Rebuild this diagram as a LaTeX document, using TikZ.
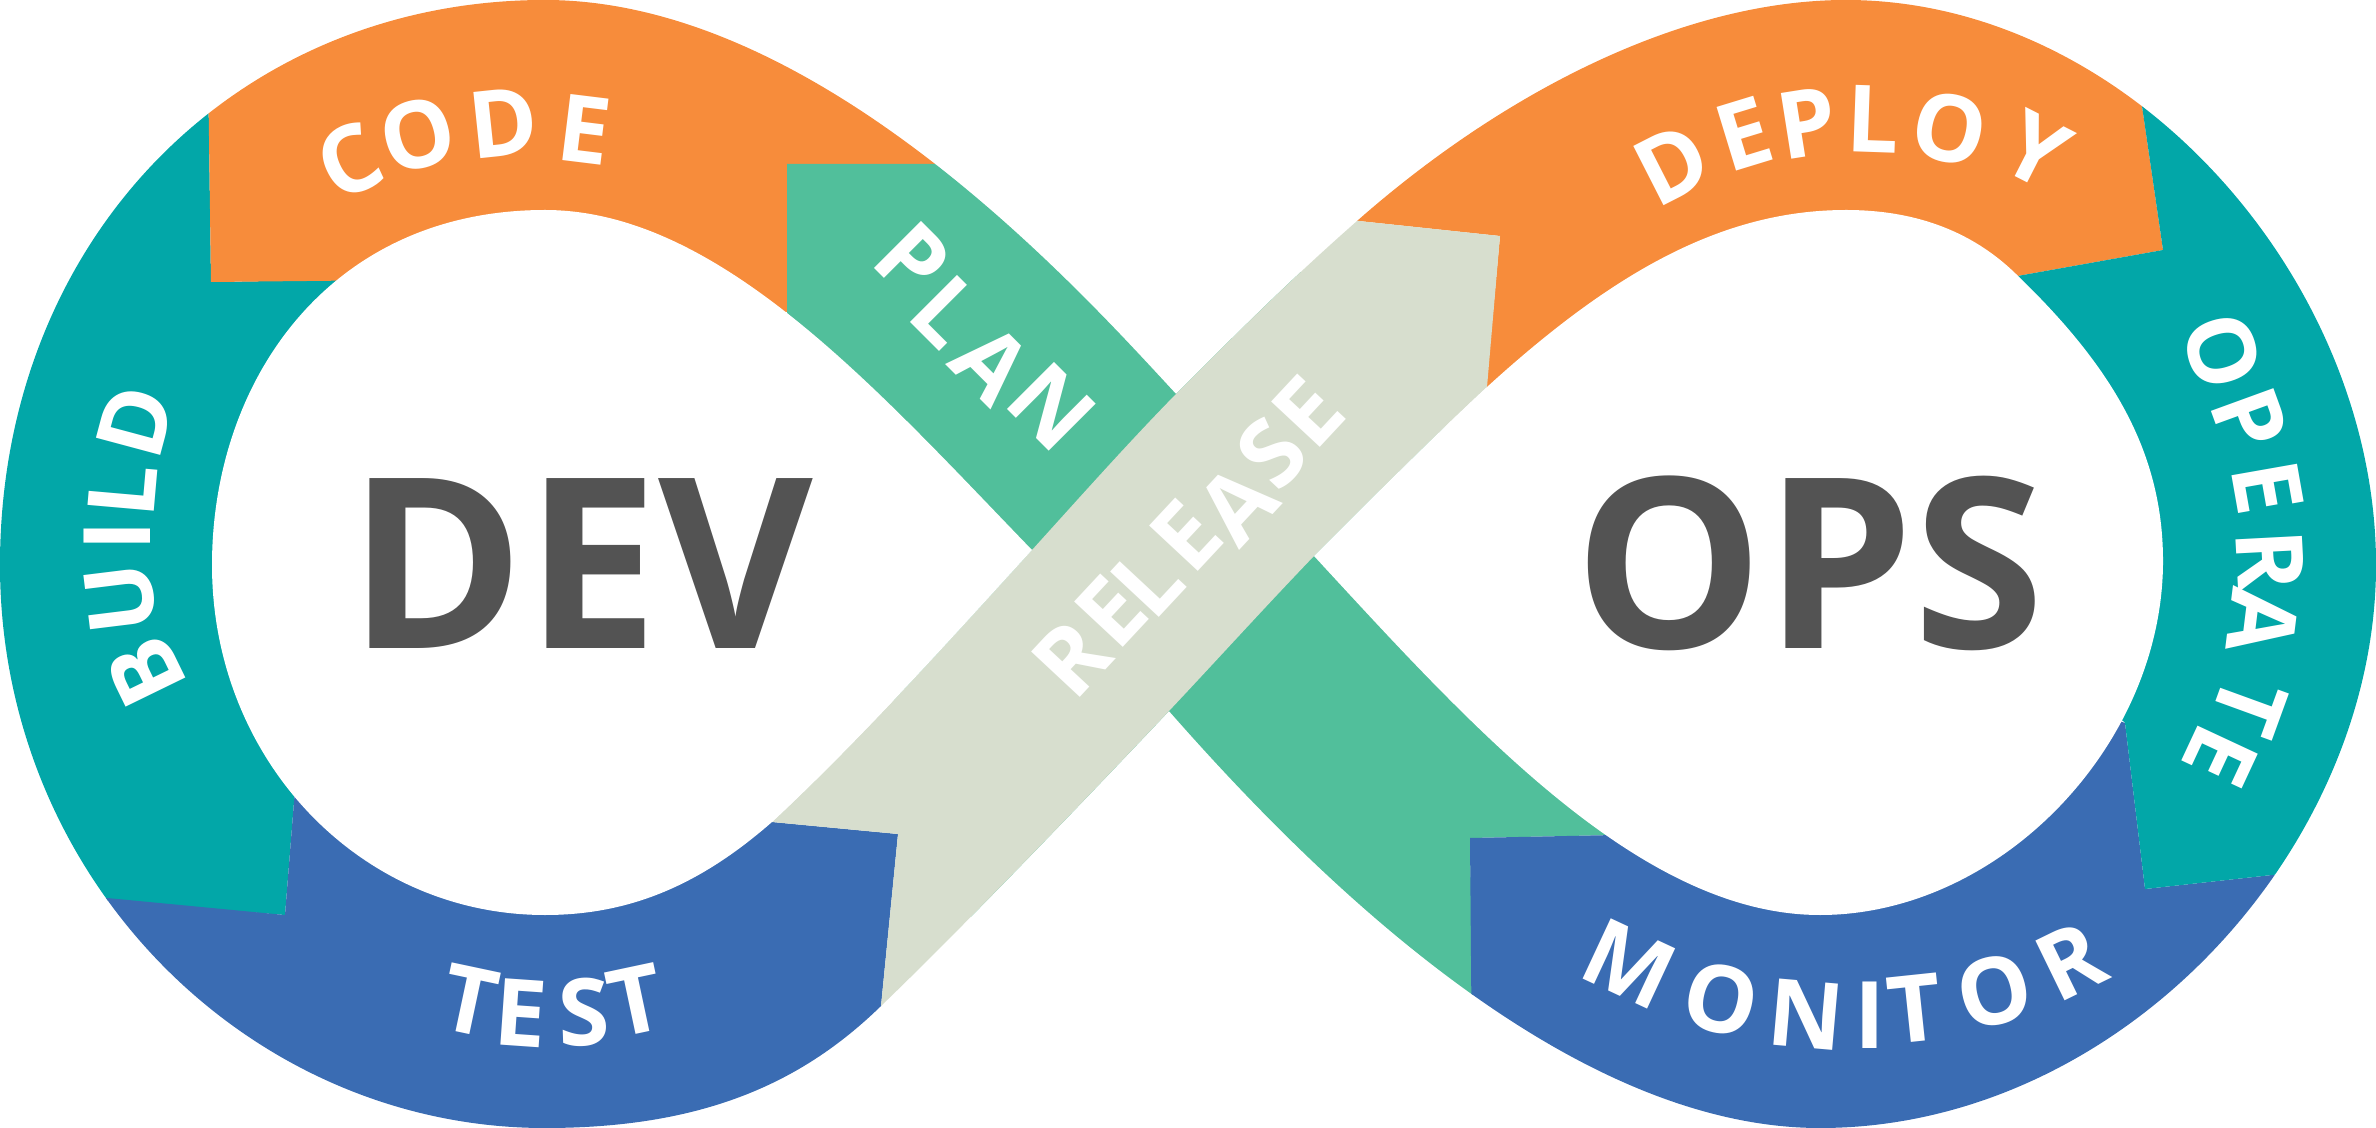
\documentclass[tikz,border=0pt]{standalone}
\usepackage{fontspec}
\setmainfont{Open Sans}
\definecolor{bandorange}{HTML}{F78C3B}
\definecolor{bandteal}{HTML}{02A7A8}
\definecolor{bandgreen}{HTML}{51BF9B}
\definecolor{bandblue}{HTML}{3A6CB3}
\definecolor{bandbeige}{HTML}{D7DECE}
\definecolor{titlegray}{HTML}{535353}
\tikzset{
  ltr/.style={inner sep=0pt,text=white,text height=19.3pt,text depth=0pt,font=\fontsize{26.5pt}{27pt}\selectfont\bfseries},
  title/.style={inner sep=0pt,anchor=base,text=titlegray,font=\fontsize{67.7pt}{70pt}\selectfont\bfseries}
}
\begin{document}
\begin{tikzpicture}[x=0.01cm,y=-0.01cm]
\useasboundingbox (0,0) rectangle (2376,1128);
\begin{scope}
\clip (545,0) .. controls (235,0) and (0,240) .. (0,565)
  .. controls (0,880) and (250,1128) .. (545,1128)
  .. controls (700,1128) and (800,1085) .. (881,1006)
  .. controls (960,930) and (1080,805) .. (1169,711)
  .. controls (1300,860) and (1560,1128) .. (1820,1128)
  .. controls (2120,1128) and (2376,850) .. (2376,565)
  .. controls (2376,280) and (2130,0) .. (1846,0)
  .. controls (1680,0) and (1500,95) .. (1357,221)
  .. controls (1290,280) and (1240,330) .. (1176,394)
  .. controls (1085,296) and (822,0) .. (545,0) -- cycle;
\fill [bandteal] (207,-10) -- (211,282) -- (400,279) -- (310,600) -- (285,915) -- (109,901) -- (-50,883) -- (-50,-10) -- cycle;
\fill [bandorange] (207,-10) -- (211,282) -- (500,279) -- (787,312) -- (787,164) -- (1000,164) -- (1000,-10) -- cycle;
\fill [bandgreen] (787,164) -- (1200,164) -- (1700,700) -- (1615,835) -- (1470,838) -- (1473,1000) -- (1000,1000) -- (787,400) -- cycle;
\fill [bandblue] (-50,883) -- (285,915) -- (310,600) -- (772,822) -- (898,834) -- (881,1006) -- (870,1200) -- (-50,1200) -- cycle;
\fill [bandblue] (1470,838) -- (1615,835) -- (1800,600) -- (2125,723) -- (2145,889) -- (2281,874) -- (2450,840) -- (2450,1200) -- (1473,1200) -- cycle;
\fill [bandorange] (1340,219) -- (1500,236) -- (1485,400) -- (1900,297) -- (2163,250) -- (2125,-10) -- (1340,-10) -- cycle;
\fill [bandteal] (2125,-10) -- (2163,250) -- (1900,297) -- (2000,600) -- (2125,723) -- (2145,889) -- (2281,874) -- (2450,840) -- (2450,-10) -- cycle;
\fill [bandbeige] (1340,219) -- (1500,236) -- (1487,387)
  .. controls (1430,440) and (1370,500) .. (1314,556)
  .. controls (1265,607) and (1217,660) .. (1169,711)
  .. controls (1080,805) and (960,930) .. (881,1006)
  -- (898,834) -- (772,822)
  .. controls (860,740) and (950,640) .. (1032,550)
  .. controls (1080,497) and (1128,443) .. (1176,394)
  .. controls (1240,330) and (1290,280) .. (1357,221) -- cycle;
\end{scope}
\fill [white] (545,210) .. controls (330,210) and (212,380) .. (212,565)
  .. controls (212,760) and (360,915) .. (545,915)
  .. controls (630,915) and (700,885) .. (772,822)
  .. controls (860,740) and (950,640) .. (1032,550)
  .. controls (880,393) and (720,210) .. (545,210) -- cycle;
\fill [white] (1846,210) .. controls (1910,210) and (1970,228) .. (2018,276)
  .. controls (2110,365) and (2163,450) .. (2163,561)
  .. controls (2163,745) and (2000,915) .. (1820,915)
  .. controls (1640,915) and (1470,725) .. (1314,556)
  .. controls (1370,500) and (1430,440) .. (1487,387)
  .. controls (1610,275) and (1720,210) .. (1846,210) -- cycle;
\node [title] (dev) at (581,649) {DEV};
\node [title] (ops) at (1810,649) {OPS};
\foreach \ch/\x/\y/\r [count=\i] in {C/349/160/25,O/418/134/15,D/503/122/6,E/585/129/-7}
  \node [ltr,rotate=\r] (code\i) at (\x,\y) {\ch};
\foreach \ch/\x/\y/\r [count=\i] in {P/913/259/-45,L/947/311/-45,A/992/363/-45,N/1052/406/-45}
  \node [ltr,rotate=\r] (plan\i) at (\x,\y) {\ch};
\foreach \ch/\x/\y/\r [count=\i] in {R/1071/658/47,E/1110/611/47,L/1147/581/47,E/1185/535/47,A/1237/504/47,S/1271/453/47,E/1307/411/47}
  \node [ltr,rotate=\r] (release\i) at (\x,\y) {\ch};
\foreach \ch/\x/\y/\r [count=\i] in {D/1672/164/27,E/1744/133/17,P/1807/122/9,L/1873/119/-2,O/1950/128/-12,Y/2037/149/-27}
  \node [ltr,rotate=\r] (deploy\i) at (\x,\y) {\ch};
\foreach \ch/\x/\y/\r [count=\i] in {O/2223/351/-73,P/2250/419/-70,E/2268/487/-80,R/2271/560/-87,A/2263/622/-97,T/2250/706/-110,E/2221/756/-115}
  \node [ltr,rotate=\r] (operate\i) at (\x,\y) {\ch};
\foreach \ch/\x/\y/\r [count=\i] in {M/1630/963/-25,O/1721/999/-13,N/1806/1014/-5,I/1870/1015/0,T/1915/1008/6,O/1994/991/14,R/2070/961/26}
  \node [ltr,rotate=\r] (monitor\i) at (\x,\y) {\ch};
\foreach \ch/\x/\y/\r [count=\i] in {T/470/1000/-12,E/521/1012/-4,S/584/1012/2,T/636/1000/12}
  \node [ltr,rotate=\r] (test\i) at (\x,\y) {\ch};
\foreach \ch/\x/\y/\r [count=\i] in {B/145/672/116,U/120/599/97,I/117/536/90,L/122/490/85,D/135/421/75}
  \node [ltr,rotate=\r] (build\i) at (\x,\y) {\ch};
\end{tikzpicture}
\end{document}
